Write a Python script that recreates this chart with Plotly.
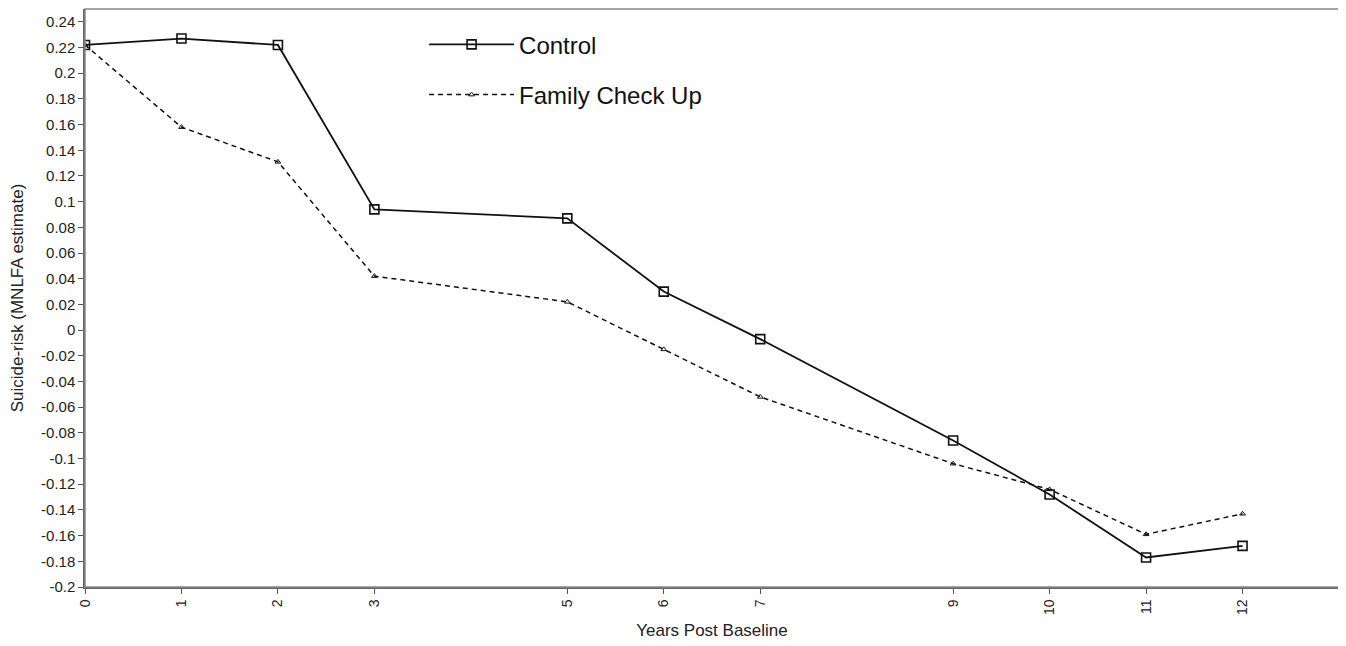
import plotly.graph_objects as go

years = [0, 1, 2, 3, 5, 6, 7, 9, 10, 11, 12]
control = [0.222, 0.227, 0.222, 0.094, 0.087, 0.030, -0.007, -0.086, -0.128, -0.177, -0.168]
fcu = [0.222, 0.158, 0.131, 0.042, 0.022, -0.015, -0.052, -0.104, -0.124, -0.159, -0.143]
y_ticks = [round(-0.2 + 0.02 * i, 2) for i in range(23)]
y_labels = ["%g" % v for v in y_ticks]

fig = go.Figure()
fig.add_trace(go.Scatter(
    x=years, y=control, name="Control", mode="lines+markers", legendgroup="a",
    line=dict(color="#111", width=1.8, dash="solid"),
    marker=dict(symbol="square-open", size=9, color="#111", line=dict(width=1.6)),
))
fig.add_trace(go.Scatter(
    x=years, y=fcu, name="Family Check Up", mode="lines+markers", legendgroup="b",
    line=dict(color="#111", width=1.5, dash="5px,4px"),
    marker=dict(symbol="triangle-up-open", size=5, color="#111", line=dict(width=1)),
))

# the page body adds an 8px offset, so the figure is 8px smaller than the window
fig.update_layout(
    width=1338, height=638,
    margin=dict(l=77, r=7, t=1, b=59),
    paper_bgcolor="white", plot_bgcolor="white",
    font=dict(family="Liberation Sans, Arial, sans-serif", color="#222"),
    legend=dict(x=0.2704, y=0.977, xanchor="left", yanchor="top",
                font=dict(size=24, color="#111"), bgcolor="rgba(0,0,0,0)",
                itemwidth=85, traceorder="grouped", tracegroupgap=16),
    showlegend=True,
)
fig.update_xaxes(
    range=[0, 13], tickvals=years, ticktext=[str(v) for v in years],
    tickangle=-90, ticks="outside", ticklen=5, tickcolor="#555",
    showline=True, linecolor="#666", linewidth=1.5, mirror=False,
    showgrid=False, zeroline=False, tickfont=dict(size=14, color="#222"),
    automargin=False,
    title=dict(text="Years Post Baseline", font=dict(size=17), standoff=10),
)
fig.update_yaxes(
    range=[-0.2, 0.25], tickvals=y_ticks, ticktext=y_labels,
    ticks="outside", ticklen=5, tickcolor="#555",
    showline=True, linecolor="#666", linewidth=1.5,
    showgrid=False, zeroline=False, tickfont=dict(size=15, color="#222"),
    automargin=False,
    title=dict(text="Suicide-risk (MNLFA estimate)", font=dict(size=17), standoff=21),
)
# frame on top and right
fig.add_shape(type="rect", xref="paper", yref="paper", x0=0, y0=0, x1=1, y1=1,
              line=dict(color="#888", width=1.5), fillcolor="rgba(0,0,0,0)", layer="above")

fig.write_html("out.html")
